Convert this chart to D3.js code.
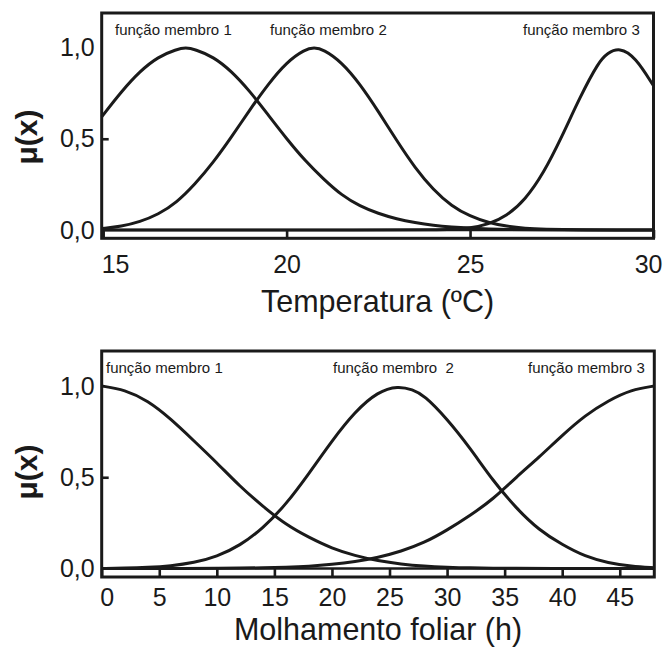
<!DOCTYPE html>
<html>
<head>
<meta charset="utf-8">
<script src="https://cdn.jsdelivr.net/npm/d3@7"></script>
<style>
  html, body { margin: 0; padding: 0; background: #ffffff; }
  svg { display: block; }
  text { font-family: "Liberation Sans", Arial, Helvetica, sans-serif; fill: #1a1a1a; }
</style>
</head>
<body>
<svg id="chart" width="663" height="647"></svg>
<script>
// ---- Temperature membership functions (x in ºC, μ) ----
const tempMF1 = [[14.96,0.62],[15.5,0.76],[16,0.87],[16.5,0.95],[17,0.99],[17.25,1.0],[17.5,0.99],[18,0.95],[18.5,0.87],[19,0.76],[19.5,0.63],[20,0.50],[20.5,0.38],[21,0.28],[21.5,0.19],[22,0.13],[22.5,0.09],[23,0.06],[23.5,0.04],[24,0.025],[24.5,0.016],[25,0.01],[25.5,0.006],[26,0.003],[27,0.001],[28,0],[30,0]];
const tempMF2 = [[14.96,0.008],[15.5,0.02],[16,0.045],[16.5,0.085],[17,0.15],[17.5,0.25],[18,0.37],[18.5,0.51],[19,0.66],[19.5,0.80],[20,0.92],[20.5,0.99],[20.75,1.0],[21,0.99],[21.5,0.92],[22,0.80],[22.5,0.65],[23,0.49],[23.5,0.34],[24,0.22],[24.5,0.13],[25,0.075],[25.5,0.04],[26,0.02],[26.5,0.009],[27,0.004],[28,0.001],[29,0],[30,0]];
const tempMF3 = [[14.96,0],[23,0],[24,0.001],[24.5,0.003],[25,0.011],[25.5,0.031],[26,0.077],[26.5,0.165],[27,0.31],[27.5,0.51],[28,0.73],[28.5,0.92],[28.75,0.97],[29.07,1.0],[29.5,0.95],[30,0.79]];
const tempTicks = [15, 20, 25, 30];
const tempTickLabels = ["15", "20", "25", "30"];
const tempNames = ["função membro 1", "função membro 2", "função membro 3"];
const tempTitle = "Temperatura (ºC)";

// ---- Leaf wetness membership functions (x in hours, μ) ----
const wetMF1 = [[0,1.0],[2,0.98],[4,0.92],[6,0.82],[8,0.70],[10,0.58],[12,0.45],[14,0.34],[16,0.24],[18,0.17],[20,0.11],[22,0.07],[24,0.042],[26,0.024],[28,0.013],[30,0.007],[32,0.003],[34,0.002],[36,0.001],[38,0],[48,0]];
const wetMF2 = [[0,0],[2,0.002],[4,0.006],[6,0.014],[8,0.031],[10,0.065],[12,0.125],[14,0.22],[16,0.35],[18,0.52],[20,0.70],[22,0.86],[24,0.97],[25.75,1.0],[27,0.98],[28,0.95],[30,0.82],[32,0.66],[34,0.48],[36,0.33],[38,0.21],[40,0.13],[42,0.065],[44,0.03],[46,0.012],[48,0.004]];
const wetMF3 = [[0,0],[8,0],[10,0.001],[12,0.002],[14,0.004],[16,0.007],[18,0.012],[20,0.022],[22,0.037],[24,0.06],[26,0.094],[28,0.14],[30,0.21],[32,0.29],[34,0.38],[36,0.50],[38,0.61],[40,0.73],[42,0.84],[44,0.92],[46,0.98],[48,1.0]];
const wetTicks = [0, 5, 10, 15, 20, 25, 30, 35, 40, 45];
const wetTickLabels = ["0", "5", "10", "15", "20", "25", "30", "35", "40", "45"];
const wetNames = ["função membro 1", "função membro  2", "função membro 3"];
const wetTitle = "Molhamento foliar (h)";

// ---- Shared membership axis ----
const muTicks = [0, 0.5, 1];
const muTickLabels = ["0,0", "0,5", "1,0"];
const muTitle = "μ(x)";

const svg = d3.select("#chart");

function drawPanel(cfg) {
  const x = d3.scaleLinear().domain(cfg.xDomain).range([cfg.left, cfg.right]);
  const y = d3.scaleLinear().domain([0, 1]).range([cfg.y0, cfg.y1]);
  const g = svg.append("g");

  // zero baseline
  g.append("line")
    .attr("x1", x(cfg.xDomain[0])).attr("x2", x(cfg.xDomain[1]))
    .attr("y1", y(0)).attr("y2", y(0))
    .attr("stroke", "#1a1a1a").attr("stroke-width", 2.6);

  // membership curves (smoothed through the sampled points)
  const line = d3.line()
    .x(d => x(d[0]))
    .y(d => y(d[1]))
    .curve(d3.curveBasis);
  cfg.series.forEach(s => {
    g.append("path")
      .attr("d", line(s))
      .attr("fill", "none")
      .attr("stroke", "#1a1a1a")
      .attr("stroke-width", 3)
      .attr("stroke-linejoin", "round");
  });

  // bottom axis: ticks rise from the frame to the zero line
  const xAxis = d3.axisBottom(x)
    .tickValues(cfg.ticks)
    .tickFormat((d, i) => cfg.tickLabels[i])
    .tickSizeInner(-(cfg.bottom - y(0)))
    .tickSizeOuter(0)
    .tickPadding(cfg.xPad);
  const gx = g.append("g")
    .attr("transform", `translate(0,${cfg.bottom})`)
    .call(xAxis);
  gx.select(".domain").remove();
  gx.selectAll(".tick line").attr("stroke", "#1a1a1a").attr("stroke-width", 2.6);
  gx.selectAll(".tick text")
    .attr("font-size", 25)
    .attr("fill", "#1a1a1a")
    .attr("font-family", "Liberation Sans, Arial, sans-serif");
  const n = cfg.ticks.length;
  gx.selectAll(".tick").filter((d, i) => i === 0).select("text")
    .attr("text-anchor", "start").attr("x", -2);
  if (cfg.lastAtEdge) {
    gx.selectAll(".tick").filter((d, i) => i === n - 1).select("text")
      .attr("text-anchor", "end").attr("x", 8.5);
  }

  // left axis
  const yAxis = d3.axisLeft(y)
    .tickValues(muTicks)
    .tickFormat((d, i) => muTickLabels[i])
    .tickSizeInner(-7)
    .tickSizeOuter(0)
    .tickPadding(7);
  const gy = g.append("g")
    .attr("transform", `translate(${cfg.left},0)`)
    .call(yAxis);
  gy.select(".domain").remove();
  gy.selectAll(".tick line")
    .attr("stroke", "#1a1a1a").attr("stroke-width", 2.6)
    .attr("display", d => d === 0.5 ? null : "none");
  gy.selectAll(".tick text")
    .attr("font-size", 25)
    .attr("fill", "#1a1a1a")
    .attr("font-family", "Liberation Sans, Arial, sans-serif");

  // frame
  g.append("rect")
    .attr("x", cfg.left).attr("y", cfg.top)
    .attr("width", cfg.right - cfg.left).attr("height", cfg.bottom - cfg.top)
    .attr("fill", "none").attr("stroke", "#1a1a1a").attr("stroke-width", 3);

  // curve names
  cfg.names.forEach((name, i) => {
    g.append("text")
      .attr("x", cfg.nameX[i]).attr("y", cfg.nameY)
      .attr("font-size", 15)
      .style("white-space", "pre")
      .text(name);
  });

  // axis titles
  g.append("text")
    .attr("x", (cfg.left + cfg.right) / 2).attr("y", cfg.titleY)
    .attr("text-anchor", "middle")
    .attr("font-size", 30.5)
    .text(cfg.title);
  g.append("text")
    .attr("transform", `translate(37,${cfg.muY}) rotate(-90)`)
    .attr("text-anchor", "middle")
    .attr("font-size", 30)
    .attr("font-weight", "bold")
    .text(muTitle);
}

drawPanel({
  series: [tempMF1, tempMF2, tempMF3],
  xDomain: [14.96, 30],
  ticks: tempTicks, tickLabels: tempTickLabels,
  names: tempNames, title: tempTitle,
  left: 101.7, right: 653.5, top: 13, bottom: 238.3,
  y0: 230, y1: 47.5,
  xPad: 17, nameX: [115, 270, 523], nameY: 35,
  titleY: 312, muY: 137, lastAtEdge: true
});

drawPanel({
  series: [wetMF1, wetMF2, wetMF3],
  xDomain: [0, 48],
  ticks: wetTicks, tickLabels: wetTickLabels,
  names: wetNames, title: wetTitle,
  left: 101.7, right: 654.3, top: 351, bottom: 577,
  y0: 568.5, y1: 386,
  xPad: 11, nameX: [106, 333, 528], nameY: 373,
  titleY: 639.5, muY: 472, lastAtEdge: false
});
</script>
</body>
</html>
